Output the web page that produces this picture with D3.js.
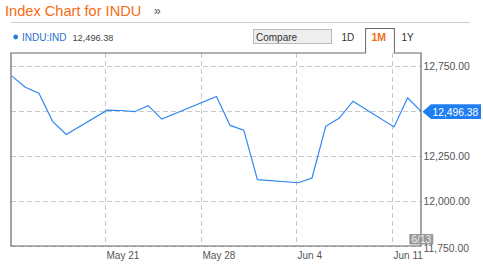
<!DOCTYPE html>
<html><head><meta charset="utf-8">
<script src="https://cdn.jsdelivr.net/npm/d3@7"></script>
<style>body{margin:0;background:#fff;}svg{display:block;font-family:"Liberation Sans",Arial,sans-serif;}</style>
</head><body>
<svg id="c" width="483" height="268"></svg>
<script>
const dates = ["2012-05-14","2012-05-15","2012-05-16","2012-05-17","2012-05-18","2012-05-21","2012-05-22","2012-05-23","2012-05-24","2012-05-25","2012-05-29","2012-05-30","2012-05-31","2012-06-01","2012-06-04","2012-06-05","2012-06-06","2012-06-07","2012-06-08","2012-06-11","2012-06-12","2012-06-13"];
const closes = [12695.35,12632.00,12598.55,12442.49,12369.38,12504.48,12502.81,12496.15,12529.75,12454.83,12580.69,12419.86,12393.45,12118.57,12101.46,12127.95,12414.79,12460.96,12554.20,12411.23,12573.80,12496.38];
const xTicks = ["2012-05-21","2012-05-28","2012-06-04","2012-06-11"];
const yTicks = [11750,12000,12250,12500,12750];
const symbol = "INDU:IND";
const lastValue = 12496.38;
const titleText = "Index Chart for INDU";
const tabs = ["1D","1M","1Y"];

const parse = d3.utcParse("%Y-%m-%d");
const data = dates.map((d,i)=>({date:parse(d), v:closes[i]}));

const L=11, R=421, T=53, B=246;
const x = d3.scaleUtc().domain([data[0].date, data[data.length-1].date]).range([11.6, 421.3]);
const y = d3.scaleLinear().domain([11750,12750]).range([246,66]);

const svg = d3.select("#c");
const fmtY = d3.format(",.2f");
const fmtX = d3.utcFormat("%b %-d");

// Title
svg.append("text").attr("x",5).attr("y",16).attr("fill","#f76b12").attr("font-size","14.6px").text(titleText);
svg.append("text").attr("x",154).attr("y",15).attr("fill","#555").attr("font-size","12px").text("»");
svg.append("line").attr("x1",11).attr("x2",470).attr("y1",22.5).attr("y2",22.5).attr("stroke","#ccc");

// Legend
svg.append("circle").attr("cx",15.7).attr("cy",37).attr("r",2.4).attr("fill","#2a7de1");
svg.append("text").attr("x",22).attr("y",40.5).attr("fill","#2a6fd0").attr("font-size","10px").text(symbol);
svg.append("text").attr("x",72.5).attr("y",40.5).attr("fill","#444").attr("font-size","9.2px").text(fmtY(lastValue));

// Compare box
svg.append("rect").attr("x",253.5).attr("y",29.5).attr("width",78).attr("height",14).attr("fill","#eee").attr("stroke","#bbb");
svg.append("text").attr("x",256).attr("y",40.5).attr("fill","#333").attr("font-size","10px").text("Compare");

// grid
const g = svg.append("g");
g.selectAll("line.h").data(yTicks).join("line")
  .attr("x1",L).attr("x2",R).attr("y1",d=>Math.round(y(d))+0.5).attr("y2",d=>Math.round(y(d))+0.5)
  .attr("stroke","#c8c8c8").attr("stroke-dasharray","5,3");
g.selectAll("line.v").data(xTicks).join("line")
  .attr("x1",d=>Math.round(x(parse(d)))-1.5).attr("x2",d=>Math.round(x(parse(d)))-1.5)
  .attr("y1",T).attr("y2",B)
  .attr("stroke","#c8c8c8").attr("stroke-dasharray","5,3");

// line
svg.append("clipPath").attr("id","clip").append("rect").attr("x",L).attr("y",T).attr("width",R-L).attr("height",B-T);
svg.append("path").datum(data).attr("clip-path","url(#clip)")
  .attr("d", d3.line().x(d=>x(d.date)).y(d=>y(d.v)))
  .attr("fill","none").attr("stroke","#2f86f5").attr("stroke-width",1.2);

// frame with tab
const tab = {l:365.7, r:394.3, t:28.5};
svg.append("path").attr("fill","none").attr("stroke","#666").attr("stroke-width",1.2)
  .attr("d",`M${tab.l},${T}H${L}V${B}H${R}V${T}H${tab.r}V${tab.t}H${tab.l}V${T}`);
svg.append("rect").attr("x",tab.l+0.6).attr("y",tab.t+0.6).attr("width",tab.r-tab.l-1.2).attr("height",T-tab.t-0.6).attr("fill","#fff");
// tabs
svg.append("text").attr("x",341.5).attr("y",40.5).attr("fill","#333").attr("font-size","10px").text(tabs[0]);
svg.append("text").attr("x",371.5).attr("y",41).attr("fill","#f76b12").attr("font-size","10.5px").attr("font-weight","bold").text(tabs[1]);
svg.append("text").attr("x",401.5).attr("y",40.5).attr("fill","#333").attr("font-size","10px").text(tabs[2]);

// x labels
svg.selectAll("text.xl").data(xTicks).join("text")
  .attr("x",d=>Math.round(x(parse(d)))-0.5).attr("y",258.5)
  .attr("fill","#555").attr("font-size","10px").text(d=>fmtX(parse(d)));

// y labels (the one hidden behind the last-price marker is not drawn)
const ly = y(lastValue);
svg.selectAll("text.yl").data(yTicks.filter(d=>Math.abs(y(d)-ly)>10)).join("text")
  .attr("x",423.5).attr("y",d=>y(d)+(d===11750?6:4.3)).attr("fill","#555").attr("font-size","10.4px").text(d=>fmtY(d));

// last price marker
svg.append("path").attr("fill","#1f7ef2")
  .attr("d",`M${R+1.5},${ly}L${431},${ly-7.3}H${481}V${ly+7.3}H${431}Z`);
svg.append("text").attr("x",432.5).attr("y",ly+4).attr("fill","#fff").attr("font-size","10.3px").text(fmtY(lastValue));

// date badge
const lx = x(data[data.length-1].date);
svg.append("rect").attr("x",lx-12).attr("y",234).attr("width",24).attr("height",10.5).attr("fill","#999");
svg.append("text").attr("x",lx).attr("y",242.5).attr("text-anchor","middle").attr("fill","#f0f0f0").attr("font-size","10px")
  .text(d3.utcFormat("%-m/%-d")(data[data.length-1].date));
</script>
</body></html>
